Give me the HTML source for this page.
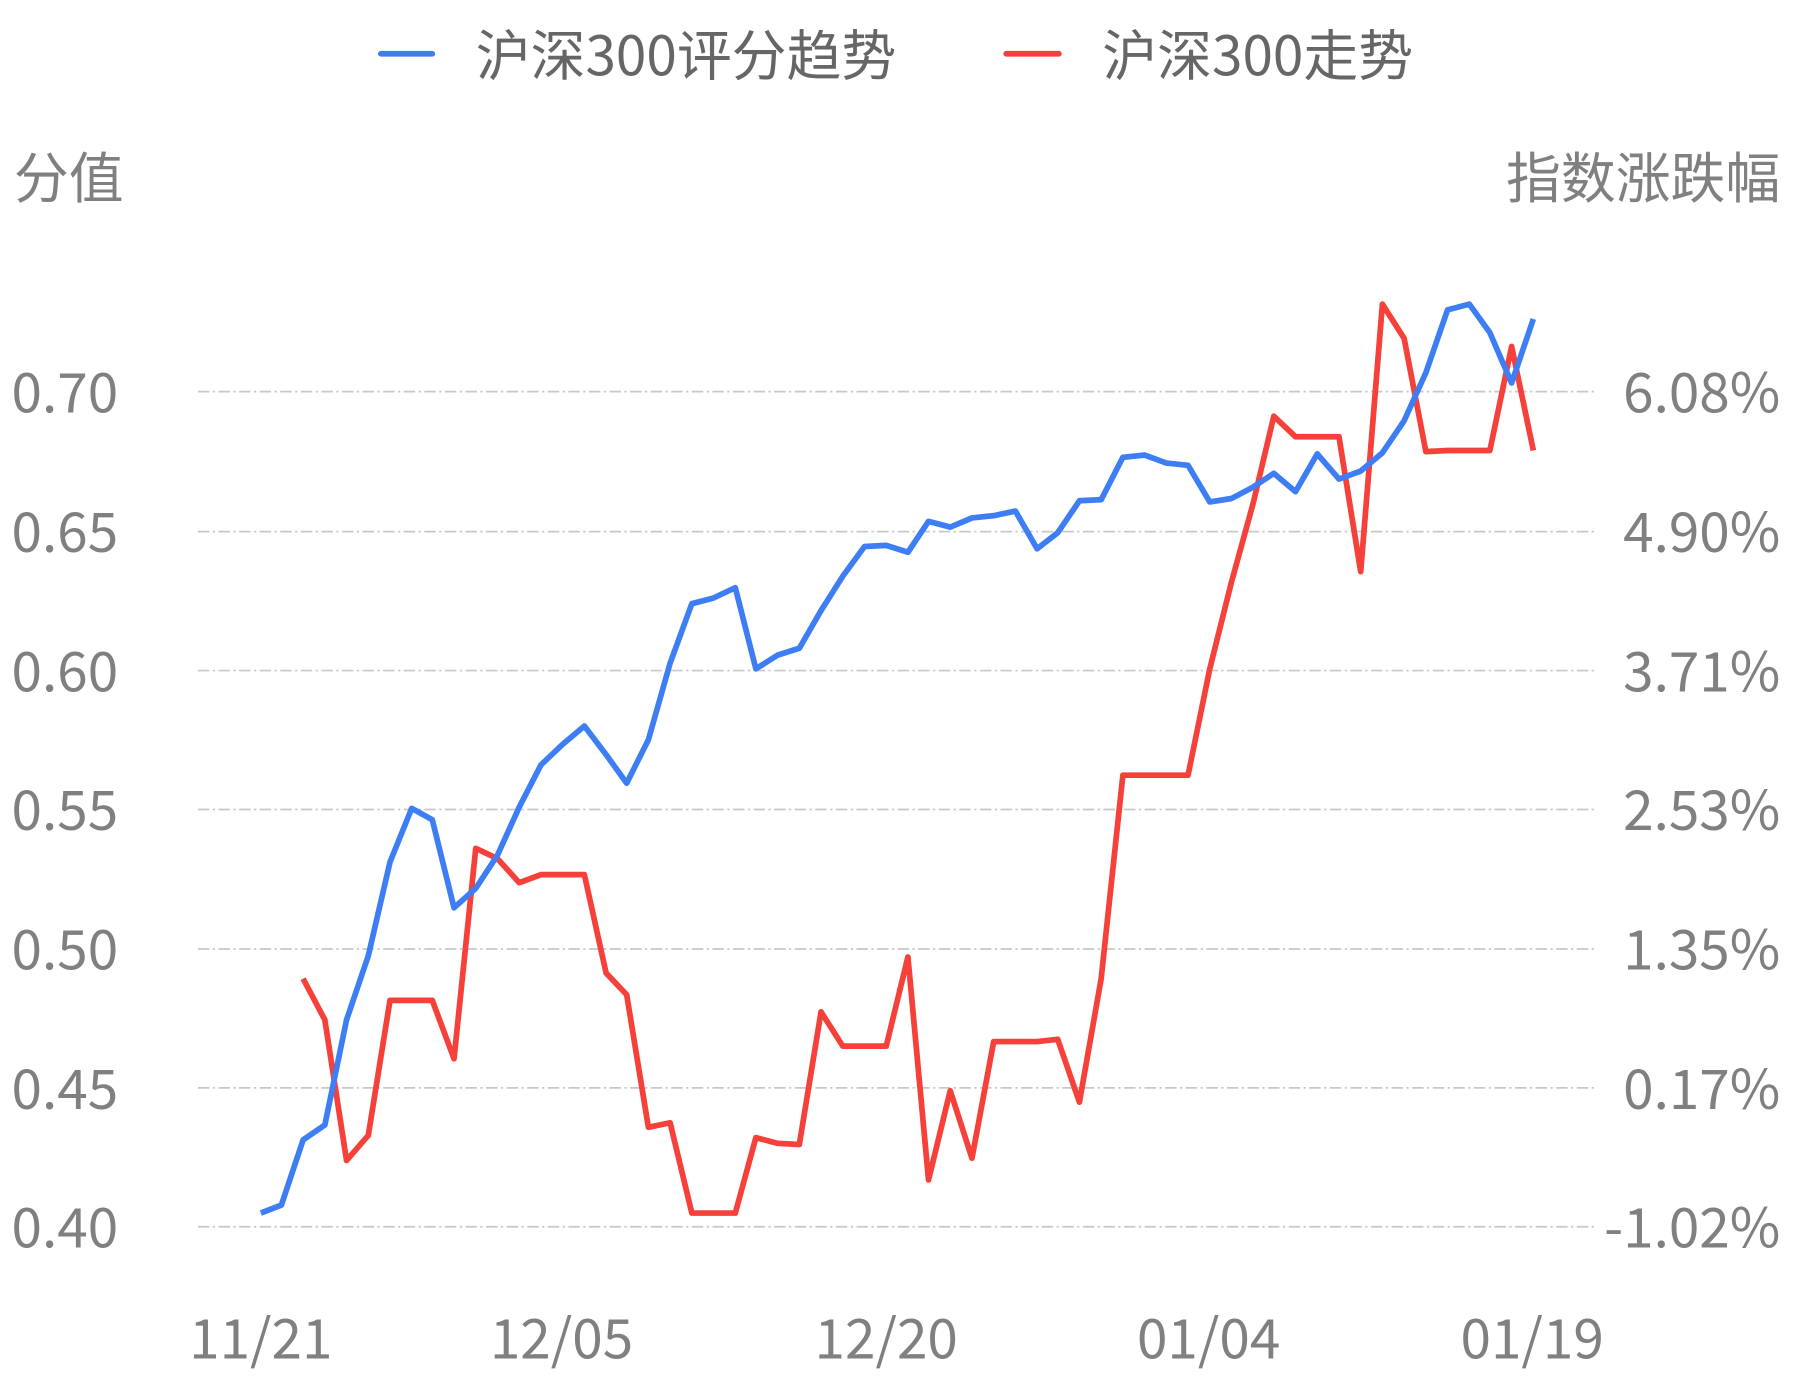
<!DOCTYPE html>
<html><head><meta charset="utf-8"><style>
html,body{margin:0;padding:0;background:#fff;}
svg{display:block;font-family:"Noto Sans CJK SC","Liberation Sans",sans-serif;}
</style></head><body>
<svg width="1793" height="1380" viewBox="0 0 1568 1207" xmlns="http://www.w3.org/2000/svg">
<g stroke="#c8c8c8" stroke-width="1.5" stroke-dasharray="10,3,2,3" fill="none">
<line x1="173" y1="342.5" x2="1397" y2="342.5"/>
<line x1="173" y1="465" x2="1397" y2="465"/>
<line x1="173" y1="586.5" x2="1397" y2="586.5"/>
<line x1="173" y1="708" x2="1397" y2="708"/>
<line x1="173" y1="830" x2="1397" y2="830"/>
<line x1="173" y1="951.5" x2="1397" y2="951.5"/>
<line x1="173" y1="1073" x2="1397" y2="1073"/>
</g>
<g fill="#808080" font-size="48">
<text x="10" y="361">0.70</text>
<text x="10" y="483">0.65</text>
<text x="10" y="605">0.60</text>
<text x="10" y="726">0.55</text>
<text x="10" y="848">0.50</text>
<text x="10" y="970">0.45</text>
<text x="10" y="1091">0.40</text>
</g>
<g fill="#808080" font-size="48" text-anchor="end">
<text x="1557" y="361">6.08%</text>
<text x="1557" y="483">4.90%</text>
<text x="1557" y="605">3.71%</text>
<text x="1557" y="726">2.53%</text>
<text x="1557" y="848">1.35%</text>
<text x="1557" y="970">0.17%</text>
<text x="1557" y="1091">-1.02%</text>
</g>
<g fill="#808080" font-size="48" text-anchor="middle">
<text x="228" y="1188">11/21</text>
<text x="491" y="1188">12/05</text>
<text x="775" y="1188">12/20</text>
<text x="1057" y="1188">01/04</text>
<text x="1340" y="1188">01/19</text>
</g>
<text x="12" y="173" fill="#808080" font-size="48">分值</text>
<text x="1557" y="173" fill="#808080" font-size="48" text-anchor="end">指数涨跌幅</text>
<line x1="333" y1="47" x2="378" y2="47" stroke="#3d7ef5" stroke-width="5" stroke-linecap="round"/>
<text x="416" y="66" fill="#666" font-size="48">沪深300评分趋势</text>
<line x1="880" y1="47" x2="926" y2="47" stroke="#f5413a" stroke-width="5" stroke-linecap="round"/>
<text x="964" y="66" fill="#666" font-size="48">沪深300走势</text>
<polyline fill="none" stroke="#f5413a" stroke-width="5" stroke-linejoin="round" points="265,856 284,892 303,1015 322,993 341,875 360,875 378,875 397,926 416,742 435,751 454,772 473,765 492,765 511,765 530,851 548,870 567,986 586,982 605,1061 624,1061 643,1061 661,995 680,1000 699,1001 718,885 737,915 756,915 775,915 794,837 812,1032 831,954 850,1013 869,911 888,911 907,911 925,909 944,964 963,856 982,678 1001,678 1020,678 1039,678 1058,585 1077,509 1096,440 1114,364 1133,382 1152,382 1171,382 1190,500 1209,266 1228,296 1247,395 1266,394 1285,394 1303,394 1322,303 1341,394"/>
<polyline fill="none" stroke="#3d7ef5" stroke-width="5" stroke-linejoin="round" points="228,1061 246,1054 265,997 284,984 303,892 322,836 341,754 360,707 378,717 397,794 416,777 435,748 454,706 473,669 492,651 511,635 530,660 548,685 567,647 586,580 605,528 624,523 643,514 661,585 680,573 699,567 718,534 737,504 756,478 775,477 794,483 812,456 831,461 850,453 869,451 888,447 907,480 925,466 944,438 963,437 982,400 1001,398 1020,405 1039,407 1058,439 1077,436 1096,426 1114,414 1133,430 1152,397 1171,419 1190,412 1209,396 1228,368 1247,326 1266,271 1285,266 1303,291 1322,335 1341,279"/>
</svg>
</body></html>
